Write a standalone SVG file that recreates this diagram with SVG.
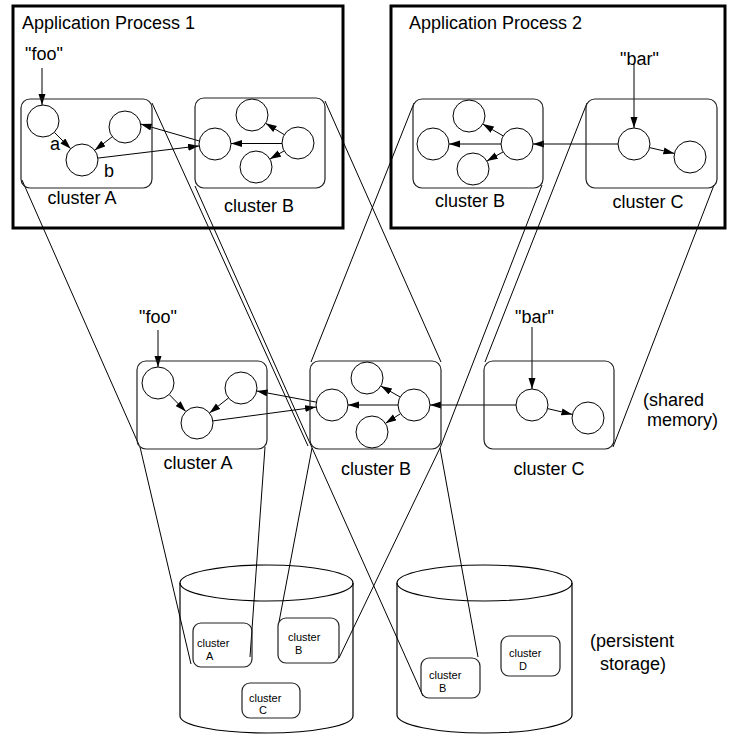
<svg xmlns="http://www.w3.org/2000/svg" width="729" height="734" viewBox="0 0 729 734">
<defs>
<marker id="ah" markerUnits="userSpaceOnUse" markerWidth="12" markerHeight="8" refX="11" refY="3.5" orient="auto">
<path d="M0,0 L11,3.5 L0,7 z" fill="#000"/>
</marker>
<style>
text{font-family:"Liberation Sans",Arial,sans-serif;fill:#000}
.big{font-size:18px}
.sm{font-size:11px}
.proc{fill:none;stroke:#000;stroke-width:3}
.cl{fill:none;stroke:#222;stroke-width:1.2}
.nd{fill:#fff;stroke:#000;stroke-width:1}
.ar{stroke:#000;stroke-width:1;fill:none;marker-end:url(#ah)}
.pj{stroke:#000;stroke-width:1;fill:none}
.cyl{fill:none;stroke:#000;stroke-width:1.2}
</style>
</defs>
<rect width="729" height="734" fill="#fff"/>

<g id="process1">
<rect class="proc" x="13" y="6" width="330" height="222"/>
<text class="big" x="22" y="29">Application Process 1</text>
</g>
<g id="process2">
<rect class="proc" x="391" y="6" width="334" height="222"/>
<text class="big" x="409" y="29">Application Process 2</text>
</g>

<g id="connectors">
<!-- projection lines -->
<line class="pj" x1="22" y1="180" x2="139" y2="445"/>
<line class="pj" x1="152" y1="103" x2="308" y2="446"/>
<line class="pj" x1="195" y1="186" x2="423" y2="696"/>
<line class="pj" x1="325" y1="101" x2="441" y2="362"/>
<line class="pj" x1="414" y1="103" x2="311" y2="362"/>
<line class="pj" x1="542" y1="185" x2="440" y2="448"/>
<line class="pj" x1="587" y1="103" x2="485" y2="362"/>
<line class="pj" x1="714" y1="185" x2="613" y2="447"/>
<line class="pj" x1="140" y1="447" x2="191" y2="664"/>
<line class="pj" x1="265" y1="447" x2="250" y2="657"/>
<line class="pj" x1="312" y1="448" x2="279" y2="622"/>
<line class="pj" x1="440" y1="448" x2="339" y2="658"/>
<line class="pj" x1="440" y1="448" x2="478" y2="657"/>
<!-- arrows process 1 -->
<line class="ar" x1="42" y1="68" x2="42" y2="105"/>
<line class="ar" x1="54.3" y1="132.3" x2="70.7" y2="148.7"/>
<line class="ar" x1="112.3" y1="136.7" x2="94.7" y2="150.3"/>
<line class="ar" x1="199.3" y1="141" x2="140.7" y2="124"/>
<line class="ar" x1="97.9" y1="158.1" x2="199.1" y2="145.9"/>
<line class="ar" x1="282" y1="143.5" x2="231" y2="143.5"/>
<line class="ar" x1="284.3" y1="134.7" x2="265.7" y2="123.3"/>
<line class="ar" x1="284.1" y1="150.9" x2="269.9" y2="159.1"/>
<!-- arrows process 2 -->
<line class="ar" x1="634" y1="64" x2="634" y2="128"/>
<line class="ar" x1="649.6" y1="147.6" x2="674.4" y2="153.4"/>
<line class="ar" x1="618" y1="144" x2="533" y2="144"/>
<line class="ar" x1="501" y1="144" x2="449" y2="144"/>
<line class="ar" x1="503.2" y1="135.9" x2="482.8" y2="124.1"/>
<line class="ar" x1="503.1" y1="151.9" x2="486.9" y2="161.1"/>
<!-- arrows shared memory -->
<line class="ar" x1="158" y1="330" x2="158" y2="367"/>
<line class="ar" x1="169.2" y1="394.5" x2="185.8" y2="411.5"/>
<line class="ar" x1="228.5" y1="398" x2="209.5" y2="413"/>
<line class="ar" x1="316.3" y1="402.1" x2="256.7" y2="391"/>
<line class="ar" x1="212.9" y1="420.9" x2="316.1" y2="407.1"/>
<line class="ar" x1="398" y1="405" x2="348" y2="405"/>
<line class="ar" x1="400.1" y1="397" x2="380.9" y2="386"/>
<line class="ar" x1="400.5" y1="413.7" x2="385.5" y2="423.3"/>
<line class="ar" x1="516" y1="405" x2="430" y2="405"/>
<line class="ar" x1="532" y1="327" x2="532" y2="389"/>
<line class="ar" x1="547.6" y1="408.6" x2="572.4" y2="414.4"/>
</g>

<g id="p1-clusterA">
<rect class="cl" x="21" y="99" width="131" height="89" rx="9"/>
<circle class="nd" cx="43" cy="121" r="16"/>
<circle class="nd" cx="125" cy="127" r="16"/>
<circle class="nd" cx="82" cy="160" r="16"/>
<text class="big" x="82" y="204" text-anchor="middle">cluster A</text>
</g>
<text class="big" x="25" y="60">"foo"</text>
<text class="big" x="50" y="150">a</text>
<text class="big" x="104" y="177">b</text>

<g id="p1-clusterB">
<rect class="cl" x="195" y="98" width="130" height="90" rx="9"/>
<circle class="nd" cx="215" cy="144" r="16"/>
<circle class="nd" cx="252" cy="115" r="16"/>
<circle class="nd" cx="298" cy="143" r="16"/>
<circle class="nd" cx="256" cy="167" r="16"/>
<text class="big" x="259" y="212" text-anchor="middle">cluster B</text>
</g>

<g id="p2-clusterB">
<rect class="cl" x="413" y="99" width="130" height="89" rx="9"/>
<circle class="nd" cx="433" cy="144" r="16"/>
<circle class="nd" cx="469" cy="116" r="16"/>
<circle class="nd" cx="517" cy="144" r="16"/>
<circle class="nd" cx="473" cy="169" r="16"/>
<text class="big" x="470" y="207" text-anchor="middle">cluster B</text>
</g>

<g id="p2-clusterC">
<rect class="cl" x="586" y="99" width="131" height="89" rx="9"/>
<circle class="nd" cx="634" cy="144" r="16"/>
<circle class="nd" cx="690" cy="157" r="16"/>
<text class="big" x="648" y="208" text-anchor="middle">cluster C</text>
</g>
<text class="big" x="620" y="65">"bar"</text>

<g id="shm-clusterA">
<rect class="cl" x="137" y="361" width="130" height="88" rx="9"/>
<circle class="nd" cx="158" cy="383" r="16"/>
<circle class="nd" cx="241" cy="388" r="16"/>
<circle class="nd" cx="197" cy="423" r="16"/>
<text class="big" x="198" y="469" text-anchor="middle">cluster A</text>
</g>
<text class="big" x="139" y="323">"foo"</text>

<g id="shm-clusterB">
<rect class="cl" x="310" y="361" width="131" height="88" rx="9"/>
<circle class="nd" cx="332" cy="405" r="16"/>
<circle class="nd" cx="367" cy="378" r="16"/>
<circle class="nd" cx="414" cy="405" r="16"/>
<circle class="nd" cx="372" cy="432" r="16"/>
<text class="big" x="376" y="475" text-anchor="middle">cluster B</text>
</g>

<g id="shm-clusterC">
<rect class="cl" x="484" y="361" width="130" height="88" rx="9"/>
<circle class="nd" cx="532" cy="405" r="16"/>
<circle class="nd" cx="588" cy="418" r="16"/>
<text class="big" x="549" y="475" text-anchor="middle">cluster C</text>
</g>
<text class="big" x="515" y="323">"bar"</text>

<g id="shared-memory-label">
<text class="big" x="643" y="406">(shared</text>
<text class="big" x="647" y="426">memory)</text>
</g>

<g id="storage1">
<path class="cyl" d="M180,583 L180,716 A86.5,17 0 0 0 353,716 L353,583"/>
<ellipse class="cyl" cx="266.5" cy="583" rx="86.5" ry="18"/>
</g>
<g id="storage1-clusterA">
<rect class="cl" x="193" y="623" width="59" height="44" rx="8"/>
<text class="sm" x="197" y="647">cluster</text>
<text class="sm" x="206" y="660">A</text>
</g>
<g id="storage1-clusterB">
<rect class="cl" x="278" y="618" width="61" height="45" rx="8"/>
<text class="sm" x="288" y="641">cluster</text>
<text class="sm" x="295" y="654">B</text>
</g>
<g id="storage1-clusterC">
<rect class="cl" x="242" y="683" width="58" height="35" rx="8"/>
<text class="sm" x="249" y="702">cluster</text>
<text class="sm" x="259" y="714">C</text>
</g>

<g id="storage2">
<path class="cyl" d="M397,583 L397,715 A87.5,18 0 0 0 572,715 L572,583"/>
<ellipse class="cyl" cx="484.5" cy="583" rx="87.5" ry="18"/>
</g>
<g id="storage2-clusterB">
<rect class="cl" x="421" y="658" width="59" height="40" rx="8"/>
<text class="sm" x="429" y="679">cluster</text>
<text class="sm" x="439" y="692">B</text>
</g>
<g id="storage2-clusterD">
<rect class="cl" x="501" y="636" width="59" height="40" rx="8"/>
<text class="sm" x="509" y="657">cluster</text>
<text class="sm" x="519" y="670">D</text>
</g>

<g id="persistent-label">
<text class="big" x="590" y="647">(persistent</text>
<text class="big" x="600" y="670">storage)</text>
</g>
</svg>
